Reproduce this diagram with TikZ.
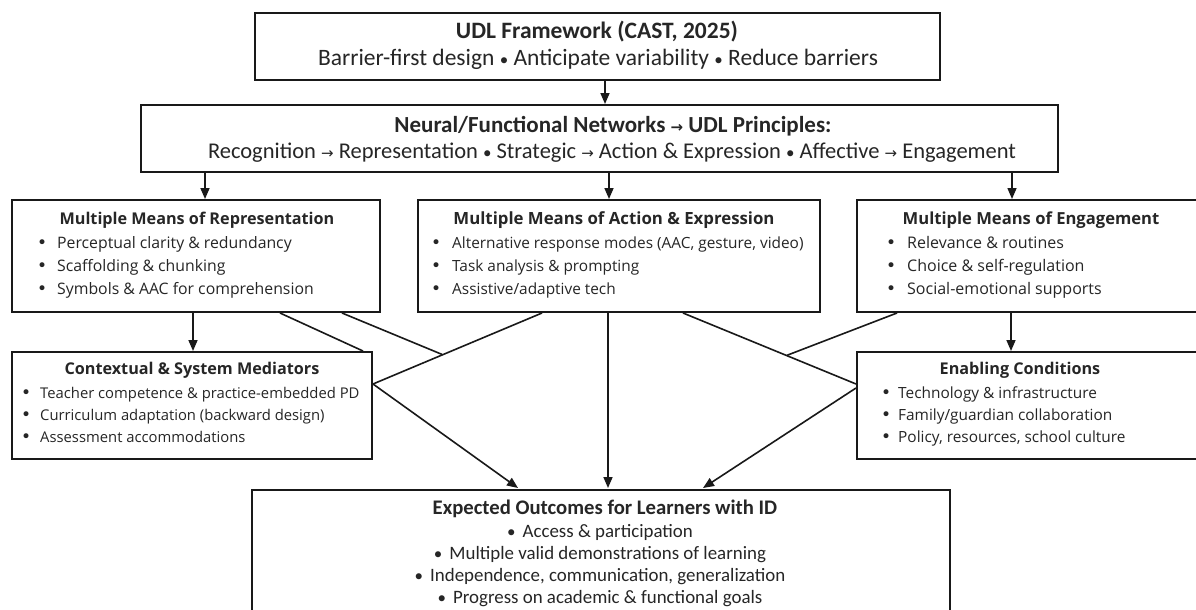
\documentclass[tikz,border=0pt]{standalone}
\usepackage{fontspec}
\setmainfont{Open Sans}
\newfontfamily\calfont{Carlito}
\newfontfamily\symfont{DejaVu Sans}
\usetikzlibrary{arrows.meta}
\newcommand{\ra}{{\symfont\fontsize{15}{18}\selectfont →}}
\newcommand{\bul}{{\symfont\fontsize{17}{18}\selectfont •}}
\newcommand{\cbul}{{\fontsize{17}{18}\selectfont •}}
\begin{document}
\begin{tikzpicture}[x=1pt,y=-1pt,
  box/.style={draw=black!90, line width=2pt, inner sep=0pt, fill=white},
  conn/.style={draw=black!90, line width=1.6pt},
  arr/.style={conn, -{Triangle[length=11pt,width=9pt]}},
  ttl/.style={font=\bfseries\fontsize{16.2}{19}\selectfont, inner sep=0pt, text height=12pt, text depth=4pt, text=black!85},
  itm/.style={font=\fontsize{15.6}{19}\selectfont, inner sep=0pt, anchor=west, text height=12pt, text depth=4pt, text=black!85},
  cttl/.style={font=\calfont\bfseries\fontsize{23.5}{27}\selectfont, inner sep=0pt, text height=16pt, text depth=6pt, text=black!85},
  ctxt/.style={font=\calfont\fontsize{23.5}{27}\selectfont, inner sep=0pt, text height=16pt, text depth=6pt, text=black!85},
  btxt/.style={font=\calfont\fontsize{22.5}{27}\selectfont, inner sep=0pt, text height=16pt, text depth=6pt, text=black!85},
  otxt/.style={font=\calfont\fontsize{18.9}{22}\selectfont, inner sep=0pt, text height=14pt, text depth=5pt, text=black!85},
  ottl/.style={font=\calfont\bfseries\fontsize{20.7}{24}\selectfont, inner sep=0pt, text height=15pt, text depth=5pt, text=black!85}
]
\useasboundingbox (0,0) rectangle (1196,610);
\clip (0,0) rectangle (1196,610);
\fill[white] (0,0) rectangle (1196,610);

% boxes
\node[box, minimum width=685pt, minimum height=67pt] (b1) at (597.5,46.5) {};
\node[box, minimum width=917pt, minimum height=67pt] (b2) at (599.5,138.5) {};
\node[box, minimum width=368pt, minimum height=112pt] (rep) at (196,256) {};
\node[box, minimum width=402pt, minimum height=112pt] (act) at (619,256) {};
\node[box, minimum width=348pt, minimum height=112pt] (eng) at (1031,256) {};
\node[box, minimum width=360pt, minimum height=107pt] (ctx) at (192,405.5) {};
\node[box, minimum width=348pt, minimum height=107pt] (en) at (1031,405.5) {};
\node[box, minimum width=698pt, minimum height=130pt] (out) at (601,555) {};

% texts box 1
\node[cttl] (t1a) at (597,34) {UDL Framework (CAST, 2025)};
\node[ctxt] (t1b) at (598,61) {Barrier-first design \cbul{} Anticipate variability \cbul{} Reduce barriers};
% box 2
\node[cttl, font=\calfont\bfseries\fontsize{23}{27}\selectfont] (t2a) at (613,127) {Neural/Functional Networks \ra{} UDL Principles:};
\node[btxt] (t2b) at (612,153) {Recognition \ra{} Representation \cbul{} Strategic \ra{} Action \& Expression \cbul{} Affective \ra{} Engagement};

% representation
\node[ttl] (r0) at (197,220) {Multiple Means of Representation};
\node[itm, font=\fontsize{15.8}{19}\selectfont] (r1) at (37,244) {\makebox[20pt][l]{\bul}Perceptual clarity \& redundancy};
\node[itm, font=\fontsize{15.8}{19}\selectfont] (r2) at (37,267) {\makebox[20pt][l]{\bul}Scaffolding \& chunking};
\node[itm, font=\fontsize{15.8}{19}\selectfont] (r3) at (37,290) {\makebox[20pt][l]{\bul}Symbols \& AAC for comprehension};
% action
\node[ttl, font=\bfseries\fontsize{16.8}{19}\selectfont] (a0) at (614,220) {Multiple Means of Action \& Expression};
\node[itm, font=\fontsize{15.4}{19}\selectfont] (a1) at (431,244) {\makebox[21pt][l]{\bul}Alternative response modes (AAC, gesture, video)};
\node[itm, font=\fontsize{15.4}{19}\selectfont] (a2) at (431,267) {\makebox[21pt][l]{\bul}Task analysis \& prompting};
\node[itm, font=\fontsize{15.4}{19}\selectfont] (a3) at (431,290) {\makebox[21pt][l]{\bul}Assistive/adaptive tech};
% engagement
\node[ttl, font=\bfseries\fontsize{16.6}{19}\selectfont] (e0) at (1031,220) {Multiple Means of Engagement};
\node[itm, font=\fontsize{16}{19}\selectfont] (e1) at (886,244) {\makebox[21pt][l]{\bul}Relevance \& routines};
\node[itm, font=\fontsize{16}{19}\selectfont] (e2) at (886,267) {\makebox[21pt][l]{\bul}Choice \& self-regulation};
\node[itm, font=\fontsize{16}{19}\selectfont] (e3) at (886,290) {\makebox[21pt][l]{\bul}Social-emotional supports};
% contextual
\node[ttl] (c0) at (192,370) {Contextual \& System Mediators};
\node[itm, font=\fontsize{14.8}{19}\selectfont] (c1) at (21,394) {\makebox[19pt][l]{\bul}Teacher competence \& practice-embedded PD};
\node[itm, font=\fontsize{14.8}{19}\selectfont] (c2) at (21,416) {\makebox[19pt][l]{\bul}Curriculum adaptation (backward design)};
\node[itm, font=\fontsize{14.8}{19}\selectfont] (c3) at (21,438) {\makebox[19pt][l]{\bul}Assessment accommodations};
% enabling
\node[ttl] (n0) at (1020,370) {Enabling Conditions};
\node[itm, font=\fontsize{15.4}{19}\selectfont] (n1) at (881,394) {\makebox[17pt][l]{\bul}Technology \& infrastructure};
\node[itm, font=\fontsize{15.4}{19}\selectfont] (n2) at (881,416) {\makebox[17pt][l]{\bul}Family/guardian collaboration};
\node[itm, font=\fontsize{15.4}{19}\selectfont] (n3) at (881,438) {\makebox[17pt][l]{\bul}Policy, resources, school culture};
% outcomes
\node[ottl] (o0) at (605,509) {Expected Outcomes for Learners with ID};
\node[otxt] (o1) at (600,533) {\cbul\hspace{7pt}Access \& participation};
\node[otxt] (o2) at (600,555) {\cbul\hspace{7pt}Multiple valid demonstrations of learning};
\node[otxt] (o3) at (600,577) {\cbul\hspace{7pt}Independence, communication, generalization};
\node[otxt] (o4) at (600,599) {\cbul\hspace{7pt}Progress on academic \& functional goals};

% junction coordinates
\coordinate (j1) at (442,354.4);
\coordinate (j2) at (787,355.3);

% vertical arrows
\draw[arr] ([xshift=7.5pt]b1.south) -- ([xshift=7.5pt]b1.south |- b2.north);
\draw[arr] ([xshift=-394.5pt]b2.south) -- ([xshift=-394.5pt]b2.south |- rep.north);
\draw[arr] ([xshift=9.5pt]b2.south) -- ([xshift=9.5pt]b2.south |- act.north);
\draw[arr] ([xshift=412.5pt]b2.south) -- ([xshift=412.5pt]b2.south |- eng.north);
\draw[arr] ([xshift=-3pt]rep.south) -- ([xshift=-3pt]rep.south |- ctx.north);
\draw[arr] ([xshift=-20pt]eng.south) -- ([xshift=-20pt]eng.south |- en.north);

% diagonal lines
\draw[conn] ([xshift=84pt]rep.south) -- ([xshift=171pt]ctx.north);
\draw[conn] ([xshift=146pt]rep.south) -- (j1);
\draw[conn] ([xshift=-77pt]act.south) -- ([yshift=21.5pt]ctx.east);
\draw[conn] ([xshift=64pt]act.south) -- ([yshift=21.5pt]en.west);
\draw[conn] ([xshift=-134pt]eng.south) -- (j2);

% arrows to outcomes
\draw[arr] ([yshift=21.5pt]ctx.east) -- ([xshift=-83pt,yshift=1pt]out.north);
\draw[arr] ([xshift=-11pt]act.south) -- ([xshift=7pt,yshift=1pt]out.north);
\draw[arr] ([yshift=17.5pt]en.west) -- ([xshift=102pt,yshift=1pt]out.north);
\end{tikzpicture}
\end{document}
